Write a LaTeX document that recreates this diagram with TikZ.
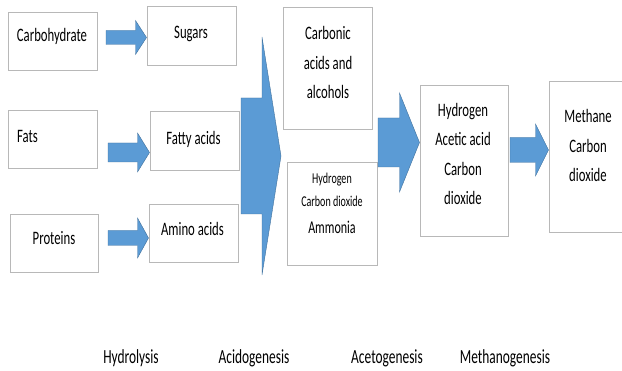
\documentclass[tikz,border=0pt]{standalone}
\usepackage{fontspec}
\setmainfont{Carlito}[FakeStretch=0.67]
\usetikzlibrary{positioning,calc}
\definecolor{arrowblue}{RGB}{91,155,213}
\definecolor{arrowedge}{RGB}{65,113,156}
\tikzset{%
  stage box/.style={
    draw=black!28,
    line width=1pt,
    fill=white,
    inner sep=0pt
  },
  box text/.style={
    inner sep=0pt,
    align=center,
    font=\fontsize{19}{29.5}\selectfont
  },
  block arrow/.style={
    fill=arrowblue,
    draw=arrowedge,
    line width=0.4pt
  },
}
% tail, tip, shaft half height, head half height, head length
\newcommand{\blockarrow}[5]{%
  \path[block arrow] let \p1=#1, \p2=#2 in
    (\x1,\y1+#3pt) -- (\x2-#5pt,\y1+#3pt) -- (\x2-#5pt,\y1+#4pt) -- (\x2,\y1)
    -- (\x2-#5pt,\y1-#4pt) -- (\x2-#5pt,\y1-#3pt) -- (\x1,\y1-#3pt) -- cycle;}

\begin{document}
\begin{tikzpicture}[x=1pt,y=-1pt]
        \tikzstyle{stage label}=[inner sep=0pt,font=\fontsize{20}{22}\selectfont]
        \fill[white] (0,0) rectangle (622,371);
        \useasboundingbox (0,0) rectangle (622,371);

        % hydrolysis
        \node[stage box,minimum width=89pt,minimum height=58pt] (carb) at (52.5,42) {};
        \node[stage box,minimum width=89pt,minimum height=59pt] (sugars) at (191.5,36.5) {};
        \node[stage box,minimum width=89pt,minimum height=58pt] (fats) at (52.5,140) {};
        \node[stage box,minimum width=89pt,minimum height=59pt] (fatty) at (194.5,141.5) {};
        \node[stage box,minimum width=88pt,minimum height=58pt] (prot) at (54,244) {};
        \node[stage box,minimum width=89pt,minimum height=58pt] (amino) at (193.5,234) {};

        \node[box text] (carbtxt) at (52,36.5) {Carbohydrate};
        \node[box text] (sugarstxt) at (191,33.5) {Sugars};
        \node[box text,anchor=west] (fatstxt) at (17,136.5) {Fats};
        \node[box text] (fattytxt) at (193.5,139.5) {Fatty acids};
        \node[box text] (prottxt) at (54,238.5) {Proteins};
        \node[box text] (aminotxt) at (192.5,228.5) {Amino acids};

        % acidogenesis
        \node[stage box,minimum width=89pt,minimum height=122pt] (carbonic) at (327.5,69) {};
        \node[stage box,minimum width=90pt,minimum height=103pt] (gases) at (332,214.5) {};
        \node[box text] (carbonictxt) at (328,62.5) {Carbonic\\acids and\\alcohols};
        \node[box text,font=\fontsize{15}{23}\selectfont] (gasestxt) at (332,203.5)
          {Hydrogen\\Carbon dioxide\\[4pt]{\fontsize{18}{20}\selectfont Ammonia}};

        % acetogenesis, methanogenesis
        \node[stage box,minimum width=88pt,minimum height=151pt] (acetic) at (464,161.5) {};
        \node[stage box,minimum width=79pt,minimum height=151pt] (methane) at (588.5,157.5) {};
        \node[box text] (acetictxt) at (463,154) {Hydrogen\\Acetic acid\\Carbon\\dioxide};
        \node[box text] (methanetxt) at (588,145.5) {Methane\\Carbon\\dioxide};

        % block arrows
        \coordinate (a1) at (106,37.5);
        \coordinate (a2) at (108,152.5);
        \coordinate (a3) at (108,238);
        \coordinate (a4) at (241,156);
        \coordinate (a4tip) at (281,156);
        \coordinate (a5) at (378,142.5);
        \coordinate (a6) at (510,150);
        \blockarrow{(a1)}{(sugars.west |- a1)}{7}{17}{11}
        \blockarrow{(a2)}{(fatty.west |- a2)}{9.5}{19.5}{12}
        \blockarrow{(a3)}{(amino.west |- a3)}{7.5}{20}{11}
        \blockarrow{(a4)}{(a4tip)}{58}{119}{19}
        \blockarrow{(a5)}{(acetic.west |- a5)}{24.5}{49.5}{20}
        \blockarrow{(a6)}{(methane.west |- a6)}{12.5}{26}{13}

        % stage names
        \node[stage label] (hydlabel) at (131,358) {Hydrolysis};
        \node[stage label] (acidlabel) at (254,358) {Acidogenesis};
        \node[stage label] (acetlabel) at (387,358) {Acetogenesis};
        \node[stage label] (methlabel) at (505,358) {Methanogenesis};
\end{tikzpicture}
\end{document}
